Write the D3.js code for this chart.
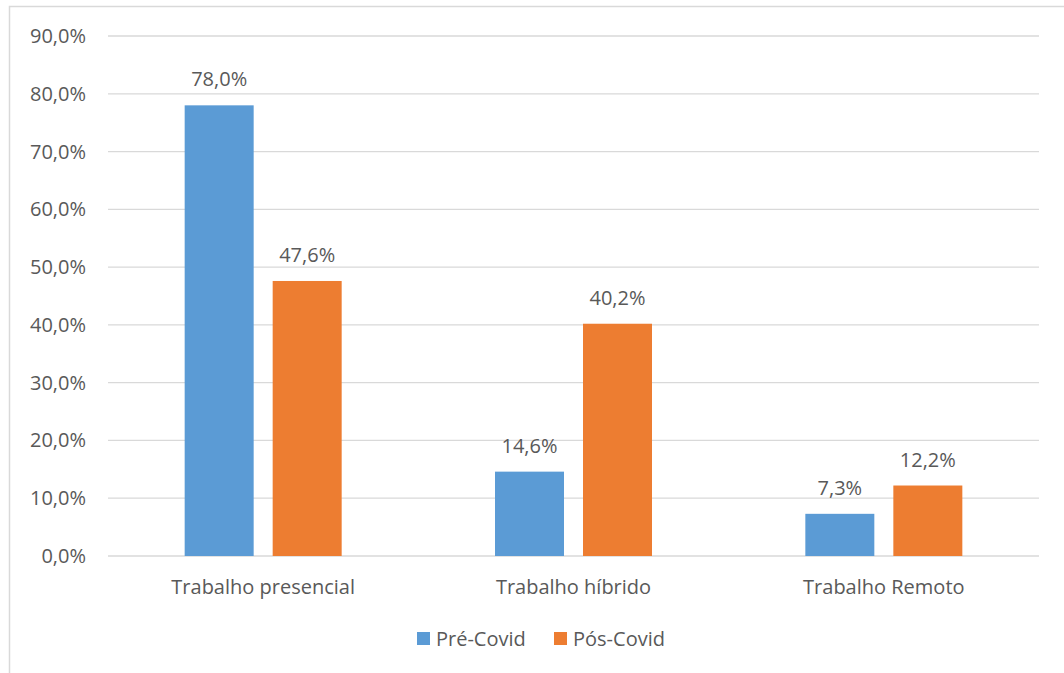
<!DOCTYPE html>
<html>
<head>
<meta charset="utf-8">
<script src="https://cdn.jsdelivr.net/npm/d3@7"></script>
<style>
  body { margin: 0; background: #fff; }
  svg text { font-family: "Open Sans", sans-serif; fill: #595959; }
</style>
</head>
<body>
<svg id="chart" width="1064" height="673"></svg>
<script>
// data
const categories = ["Trabalho presencial", "Trabalho híbrido", "Trabalho Remoto"];
const seriesNames = ["Pré-Covid", "Pós-Covid"];
const preCovid = [78.0, 14.6, 7.3];
const posCovid = [47.6, 40.2, 12.2];
const yTicks = [0, 10, 20, 30, 40, 50, 60, 70, 80, 90];

const colors = ["#5b9bd5", "#ed7d31"];

let svg = d3.select("#chart");
let width = 1064, height = 673;
let fontSize = "20px";

// chart frame (extends past the right and bottom edges)
svg.append("rect")
    .attr("x", 9.5).attr("y", 6.5)
    .attr("width", 1100).attr("height", 700)
    .attr("fill", "none")
    .attr("stroke", "#d9d9d9")
    .attr("stroke-width", 1.5);

let margin = {left: 108, right: 25, top: 36, bottom: 117};
let x0 = d3.scaleBand()
    .domain(categories)
    .range([margin.left, width - margin.right]);
let x1 = d3.scaleBand()
    .domain(seriesNames)
    .range([0, 157])
    .paddingInner(0.216);
let y = d3.scaleLinear()
    .domain([0, 90])
    .range([height - margin.bottom, margin.top]);

// gridlines
svg.append("g")
    .selectAll("line").data(yTicks).join("line")
    .attr("x1", margin.left).attr("x2", width - margin.right)
    .attr("y1", d => y(d)).attr("y2", d => y(d))
    .attr("stroke", "#d9d9d9")
    .attr("stroke-width", 1.3);

// y tick labels
svg.append("g")
    .selectAll("text").data(yTicks).join("text")
    .attr("x", 86)
    .attr("y", d => y(d))
    .attr("dy", "0.35em")
    .attr("text-anchor", "end")
    .attr("font-size", fontSize)
    .text(d => d.toFixed(1).replace(".", ",") + "%");

let rows = categories.map((c, i) => ({cat: c, values: [preCovid[i], posCovid[i]]}));
let groupOffset = (x0.bandwidth() - x1.range()[1]) / 2;

let groups = svg.append("g")
    .selectAll("g").data(rows).join("g")
    .attr("transform", d => `translate(${x0(d.cat) + groupOffset},0)`);

let cells = d => d.values.map((v, j) => ({name: seriesNames[j], value: v, j: j}));

groups.selectAll("rect").data(cells).join("rect")
    .attr("x", d => x1(d.name))
    .attr("y", d => y(d.value))
    .attr("width", x1.bandwidth())
    .attr("height", d => y(0) - y(d.value))
    .attr("fill", d => colors[d.j]);

groups.selectAll("text").data(cells).join("text")
    .attr("x", d => x1(d.name) + x1.bandwidth() / 2)
    .attr("y", d => y(d.value) - 19)
    .attr("text-anchor", "middle")
    .attr("font-size", fontSize)
    .text(d => d.value.toFixed(1).replace(".", ",") + "%");

// category labels
svg.append("g")
    .selectAll("text").data(categories).join("text")
    .attr("x", d => x0(d) + x0.bandwidth() / 2)
    .attr("y", 594)
    .attr("text-anchor", "middle")
    .attr("font-size", fontSize)
    .text(d => d);

// legend
let legendX = [417, 554];
let legend = svg.append("g")
    .selectAll("g").data(seriesNames).join("g")
    .attr("transform", (d, i) => `translate(${legendX[i]},632)`);
legend.append("rect")
    .attr("width", 13).attr("height", 13)
    .attr("fill", (d, i) => colors[i]);
legend.append("text")
    .attr("x", 19).attr("y", 14)
    .attr("font-size", fontSize)
    .text(d => d);
</script>
</body>
</html>
